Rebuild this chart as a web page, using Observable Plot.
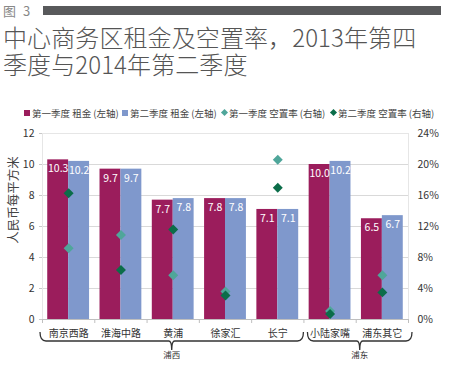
<!DOCTYPE html>
<html><head><meta charset="utf-8">
<script src="https://cdn.jsdelivr.net/npm/d3@7"></script>
<script src="https://cdn.jsdelivr.net/npm/@observablehq/plot@0.6"></script>
<style>
body{margin:0;background:#fff;font-family:"Noto Sans CJK SC","Noto Sans",sans-serif;}
#wrap{position:relative;width:451px;height:365px;overflow:hidden;}
#head{position:relative;height:122px;}
#fig{position:absolute;left:3px;top:2px;font-size:13px;line-height:18px;color:#888;word-spacing:4px;}
#rule{position:absolute;left:43px;top:6px;width:398px;height:9px;background:#58595b;}
.tl{position:absolute;left:3px;font-size:24px;line-height:26px;height:26px;color:#555;font-weight:300;letter-spacing:0.1px;white-space:nowrap;}
.lg{position:absolute;top:106px;font-size:9.5px;line-height:14px;color:#444;white-space:nowrap;}
.sw{position:absolute;top:4px;width:6px;height:6px;}
.dm{position:absolute;top:4px;width:5px;height:5px;transform:rotate(45deg);}
#chart svg{display:block;}
g[aria-label="y-axis tick label"], g[aria-label="x-axis tick label"]{fill:#333;}
</style></head>
<body>
<div id="wrap">
 <div id="head">
  <div id="fig">图 3</div>
  <div id="rule"></div>
  <div class="tl" style="top:24px">中心商务区租金及空置率，2013年第四</div>
  <div class="tl" style="top:51px">季度与2014年第二季度</div>
  <div id="legend"></div>
 </div>
 <div id="chart"></div>
</div>
<script>
const categories = ["南京西路","淮海中路","黄浦","徐家汇","长宁","小陆家嘴","浦东其它"];
const groups = [{name:"浦西", from:0, to:4}, {name:"浦东", from:5, to:6}];
const quarters = ["第一季度","第二季度"];
const rentQ1 = [10.3, 9.7, 7.7, 7.8, 7.1, 10.0, 6.5];
const rentQ2 = [10.2, 9.7, 7.8, 7.8, 7.1, 10.2, 6.7];
const vacQ1 = [9.2, 10.9, 5.7, 3.6, 20.6, 1.1, 5.7];
const vacQ2 = [16.3, 6.4, 11.6, 3.1, 17.0, 0.7, 3.5];
const rentTicks = [0, 2, 4, 6, 8, 10, 12];
const legendItems = ["第一季度 租金 (左轴)","第二季度 租金 (左轴)","第一季度 空置率 (右轴)","第二季度 空置率 (右轴)"];
const barColors = ["#9b1d5c", "#7f98cc"];
const dotColors = ["#4fa69a", "#0b6d49"];
const yTitle = "人民币每平方米";

// legend
const lgPos = [24, 122, 221, 330];
const lg = document.getElementById("legend");
legendItems.forEach((t, i) => {
  const d = document.createElement("div");
  d.className = "lg";
  d.style.left = lgPos[i] + "px";
  const m = document.createElement("span");
  m.className = i < 2 ? "sw" : "dm";
  m.style.background = i < 2 ? barColors[i] : dotColors[i - 2];
  m.style.left = i < 2 ? "0px" : "1px";
  d.appendChild(m);
  const s = document.createElement("span");
  s.style.marginLeft = "8px";
  s.textContent = t;
  d.appendChild(s);
  lg.appendChild(d);
});

// one row per category and quarter; x positions come from the category index on a linear x scale
const pad = 0.1, half = 0.4;
const rows = categories.flatMap((c, i) => [
  {i, cat: c, qi: 0, q: quarters[0], rent: rentQ1[i], vac: vacQ1[i]},
  {i, cat: c, qi: 1, q: quarters[1], rent: rentQ2[i], vac: vacQ2[i]}
]);
const bx1 = d => d.i + pad + d.qi * half;
const bx2 = d => d.i + pad + (d.qi + 1) * half;
const centers = categories.map((c, i) => i + 0.5);
const bounds = d3.range(categories.length + 1);

const plot = Plot.plot({
  width: 451, height: 243,
  marginLeft: 42, marginRight: 43, marginTop: 11, marginBottom: 46,
  style: {fontFamily: '"Noto Sans CJK SC","Noto Sans",sans-serif', fontSize: "10px", color: "#333"},
  x: {domain: [0, categories.length], axis: null},
  y: {domain: [0, 12], axis: null},
  color: {domain: quarters, range: barColors},
  marks: [
    Plot.ruleY(rentTicks.slice(1), {stroke: "#d9d9d9"}),
    Plot.frame({stroke: "#e6e6e6"}),
    Plot.rectY(rows, {x1: bx1, x2: bx2, y: "rent", fill: "q"}),
    Plot.text(rows, {x: d => (bx1(d) + bx2(d)) / 2, y: "rent", text: d => d.rent.toFixed(1), fill: "#fff", dy: 9, fontSize: 10.5}),
    Plot.dot(rows, {filter: d => d.qi === 0, x: d => d.i + 0.5, y: d => d.vac / 2, symbol: "diamond2", r: 4.5, fill: dotColors[0]}),
    Plot.dot(rows, {filter: d => d.qi === 1, x: d => d.i + 0.5, y: d => d.vac / 2, symbol: "diamond2", r: 4.5, fill: dotColors[1]}),
    Plot.ruleY([0], {stroke: "#bfbfbf"}),
    Plot.axisY(rentTicks, {anchor: "left", tickSize: 3, tickPadding: 5, stroke: "#c8c8c8", fontSize: 10.5, label: null}),
    Plot.axisY(rentTicks, {anchor: "right", tickSize: 0, tickPadding: 9, tickFormat: d => (d * 2) + "%", fontSize: 10.5, label: null}),
    Plot.axisX(bounds, {anchor: "bottom", tickSize: 4, tickFormat: () => "", stroke: "#bfbfbf", label: null}),
    Plot.axisX(centers, {anchor: "bottom", tickSize: 0, tickPadding: 10, tickFormat: d => categories[Math.floor(d)], fontSize: 10, label: null})
  ]
});
document.getElementById("chart").appendChild(plot);

// district brackets and y title, placed with Plot's scales
const svg = d3.select(plot);
const xs = plot.scale("x"), ys = plot.scale("y");
const y0 = ys.apply(0);
groups.forEach((g, k) => {
  const xa = xs.apply(g.from) + (k === 0 ? -2 : 4), xb = xs.apply(g.to + 1) + (k === 0 ? 0 : 4);
  const cx = (xa + xb) / 2, top = y0 + 13, mid = y0 + 22, tip = y0 + 31;
  svg.append("path")
    .attr("d", `M${xa},${top} Q${xa},${mid} ${xa + 6},${mid} H${cx - 3} Q${cx},${mid} ${cx},${tip} Q${cx},${mid} ${cx + 3},${mid} H${xb - 6} Q${xb},${mid} ${xb},${top}`)
    .attr("fill", "none").attr("stroke", "#333").attr("stroke-width", 1.3);
  svg.append("text").attr("x", cx).attr("y", tip + 8).attr("text-anchor", "middle")
    .attr("font-size", 8.5).attr("fill", "#333").text(g.name);
});
svg.append("text").attr("transform", `translate(15,${ys.apply(6) - 26}) rotate(-90)`)
  .attr("text-anchor", "middle").attr("dominant-baseline", "middle")
  .attr("font-size", 12.5).attr("fill", "#444").text(yTitle);
</script>
</body></html>
